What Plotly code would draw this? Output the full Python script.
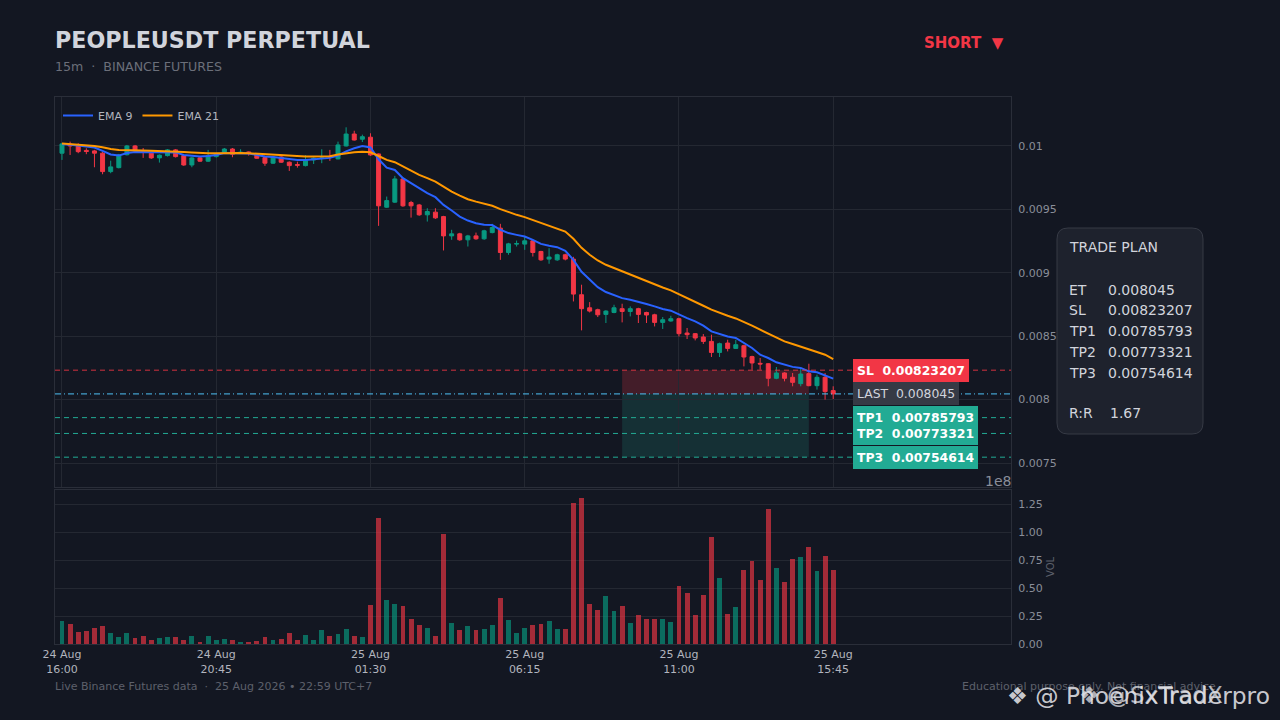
import pandas as pd
import plotly.graph_objects as go

# PEOPLEUSDT perpetual, 15m candles 24 Aug 16:00 -> 25 Aug 15:45
times = pd.date_range("2026-08-24 16:00", periods=96, freq="15min")

opens = [0.009943, 0.010013, 0.010000, 0.009965, 0.009961, 0.009943, 0.009798, 0.009829, 0.009931, 0.010000,
         0.009963, 0.009943, 0.009906, 0.009924, 0.009969, 0.009924, 0.009850, 0.009906, 0.009880, 0.009916,
         0.009943, 0.009976, 0.009943, 0.009953, 0.009937, 0.009908, 0.009864, 0.009913, 0.009872, 0.009853,
         0.009845, 0.009890, 0.009901, 0.009918, 0.009898, 0.010000, 0.010094, 0.010053, 0.010069, 0.009937,
         0.009517, 0.009557, 0.009740, 0.009554, 0.009535, 0.009457, 0.009478, 0.009443, 0.009291, 0.009307,
         0.009260, 0.009291, 0.009268, 0.009317, 0.009352, 0.009160, 0.009226, 0.009226, 0.009252, 0.009168,
         0.009108, 0.009102, 0.009142, 0.009108, 0.008827, 0.008724, 0.008709, 0.008672, 0.008687, 0.008717,
         0.008695, 0.008717, 0.008687, 0.008669, 0.008609, 0.008620, 0.008638, 0.008525, 0.008520, 0.008494,
         0.008459, 0.008372, 0.008446, 0.008404, 0.008425, 0.008339, 0.008286, 0.008283, 0.008168, 0.008210,
         0.008176, 0.008126, 0.008205, 0.008110, 0.008176, 0.008071]
highs = [0.010024, 0.010034, 0.010021, 0.009982, 0.009969, 0.009953, 0.009884, 0.009937, 0.010008, 0.010008,
         0.009984, 0.009949, 0.009933, 0.009976, 0.009976, 0.009929, 0.009913, 0.009913, 0.009969, 0.009941,
         0.009984, 0.009984, 0.009974, 0.009957, 0.009941, 0.009913, 0.009921, 0.009919, 0.009878, 0.009876,
         0.009927, 0.009909, 0.009974, 0.009969, 0.010034, 0.010147, 0.010120, 0.010089, 0.010100, 0.009941,
         0.009601, 0.009764, 0.009748, 0.009567, 0.009543, 0.009509, 0.009509, 0.009449, 0.009339, 0.009315,
         0.009299, 0.009317, 0.009339, 0.009386, 0.009386, 0.009236, 0.009254, 0.009283, 0.009260, 0.009173,
         0.009194, 0.009150, 0.009150, 0.009126, 0.008906, 0.008769, 0.008717, 0.008705, 0.008748, 0.008756,
         0.008735, 0.008724, 0.008693, 0.008677, 0.008651, 0.008661, 0.008646, 0.008565, 0.008525, 0.008517,
         0.008512, 0.008449, 0.008472, 0.008472, 0.008433, 0.008346, 0.008328, 0.008287, 0.008257, 0.008216,
         0.008210, 0.008250, 0.008283, 0.008197, 0.008210, 0.008105]
lows = [0.009890, 0.009929, 0.009943, 0.009935, 0.009832, 0.009777, 0.009785, 0.009823, 0.009925, 0.009953,
        0.009906, 0.009898, 0.009869, 0.009917, 0.009909, 0.009843, 0.009832, 0.009874, 0.009874, 0.009909,
        0.009937, 0.009911, 0.009937, 0.009924, 0.009898, 0.009843, 0.009858, 0.009866, 0.009803, 0.009829,
        0.009839, 0.009858, 0.009864, 0.009882, 0.009894, 0.009996, 0.010043, 0.010031, 0.009921, 0.009370,
        0.009512, 0.009551, 0.009520, 0.009435, 0.009449, 0.009404, 0.009425, 0.009176, 0.009260, 0.009252,
        0.009207, 0.009260, 0.009260, 0.009311, 0.009102, 0.009142, 0.009207, 0.009181, 0.009128, 0.009094,
        0.009071, 0.009094, 0.009098, 0.008774, 0.008546, 0.008687, 0.008651, 0.008604, 0.008681, 0.008609,
        0.008656, 0.008604, 0.008604, 0.008577, 0.008557, 0.008614, 0.008498, 0.008478, 0.008467, 0.008439,
        0.008336, 0.008336, 0.008380, 0.008399, 0.008262, 0.008236, 0.008236, 0.008105, 0.008161, 0.008144,
        0.008105, 0.008105, 0.008105, 0.008079, 0.008000, 0.008005]
closes = [0.010016, 0.010000, 0.009955, 0.009957, 0.009943, 0.009798, 0.009835, 0.009929, 0.010000, 0.009961,
          0.009958, 0.009906, 0.009927, 0.009969, 0.009916, 0.009850, 0.009906, 0.009880, 0.009924, 0.009935,
          0.009976, 0.009935, 0.009950, 0.009943, 0.009903, 0.009864, 0.009913, 0.009872, 0.009845, 0.009848,
          0.009884, 0.009903, 0.009905, 0.009913, 0.010008, 0.010094, 0.010047, 0.010073, 0.009929, 0.009528,
          0.009569, 0.009740, 0.009528, 0.009528, 0.009457, 0.009483, 0.009433, 0.009291, 0.009307, 0.009260,
          0.009291, 0.009268, 0.009331, 0.009357, 0.009160, 0.009228, 0.009230, 0.009252, 0.009160, 0.009102,
          0.009124, 0.009142, 0.009108, 0.008832, 0.008717, 0.008698, 0.008669, 0.008698, 0.008724, 0.008695,
          0.008717, 0.008672, 0.008667, 0.008609, 0.008630, 0.008638, 0.008520, 0.008512, 0.008486, 0.008459,
          0.008372, 0.008441, 0.008404, 0.008433, 0.008336, 0.008289, 0.008281, 0.008168, 0.008210, 0.008168,
          0.008136, 0.008202, 0.008110, 0.008176, 0.008063, 0.008045]
# volume in units of 1e8
volume = [0.205, 0.179, 0.107, 0.116, 0.143, 0.161, 0.098, 0.0625, 0.098, 0.054,
          0.071, 0.036, 0.054, 0.0625, 0.0625, 0.036, 0.071, 0.018, 0.071, 0.036,
          0.045, 0.036, 0.018, 0.018, 0.027, 0.0625, 0.036, 0.045, 0.098, 0.036,
          0.080, 0.036, 0.125, 0.071, 0.089, 0.134, 0.071, 0.0625, 0.348, 1.125,
          0.393, 0.357, 0.339, 0.223, 0.170, 0.143, 0.071, 0.982, 0.1875, 0.125,
          0.161, 0.125, 0.134, 0.170, 0.411, 0.214, 0.098, 0.143, 0.170, 0.179,
          0.205, 0.134, 0.134, 1.259, 1.304, 0.357, 0.304, 0.429, 0.295, 0.339,
          0.1875, 0.259, 0.223, 0.223, 0.223, 0.196, 0.518, 0.455, 0.259, 0.4375,
          0.955, 0.589, 0.268, 0.330, 0.661, 0.741, 0.571, 1.205, 0.679, 0.554,
          0.759, 0.777, 0.866, 0.652, 0.786, 0.661]
ema9 = [0.010016, 0.010012, 0.010004, 0.009996, 0.009988, 0.009961, 0.009933, 0.009924, 0.009945, 0.009953,
        0.009953, 0.009949, 0.009949, 0.009953, 0.009949, 0.009929, 0.009925, 0.009917, 0.009921, 0.009929,
        0.009945, 0.009945, 0.009945, 0.009941, 0.009929, 0.009917, 0.009913, 0.009906, 0.009894, 0.009890,
        0.009890, 0.009894, 0.009898, 0.009906, 0.009925, 0.009957, 0.009982, 0.010000, 0.009988, 0.009895,
        0.009829, 0.009811, 0.009746, 0.009706, 0.009667, 0.009628, 0.009596, 0.009535, 0.009491, 0.009443,
        0.009412, 0.009391, 0.009378, 0.009376, 0.009339, 0.009313, 0.009299, 0.009286, 0.009260, 0.009228,
        0.009213, 0.009202, 0.009173, 0.009102, 0.009008, 0.008945, 0.008887, 0.008848, 0.008821, 0.008800,
        0.008787, 0.008772, 0.008754, 0.008735, 0.008714, 0.008701, 0.008669, 0.008643, 0.008617, 0.008583,
        0.008538, 0.008517, 0.008498, 0.008486, 0.008446, 0.008407, 0.008354, 0.008328, 0.008294, 0.008276,
        0.008258, 0.008250, 0.008223, 0.008215, 0.008189, 0.008165]
ema21 = [0.010020, 0.010016, 0.010012, 0.010006, 0.010000, 0.009990, 0.009976, 0.009969, 0.009966, 0.009966,
         0.009965, 0.009963, 0.009961, 0.009961, 0.009958, 0.009953, 0.009949, 0.009945, 0.009943, 0.009943,
         0.009945, 0.009945, 0.009945, 0.009943, 0.009939, 0.009935, 0.009929, 0.009927, 0.009921, 0.009917,
         0.009916, 0.009916, 0.009916, 0.009919, 0.009933, 0.009943, 0.009950, 0.009955, 0.009950, 0.009921,
         0.009890, 0.009872, 0.009837, 0.009806, 0.009772, 0.009746, 0.009719, 0.009680, 0.009640, 0.009609,
         0.009580, 0.009561, 0.009543, 0.009528, 0.009502, 0.009478, 0.009457, 0.009439, 0.009417, 0.009391,
         0.009370, 0.009352, 0.009325, 0.009268, 0.009197, 0.009142, 0.009097, 0.009063, 0.009037, 0.009010,
         0.008984, 0.008958, 0.008937, 0.008911, 0.008884, 0.008861, 0.008832, 0.008801, 0.008769, 0.008740,
         0.008709, 0.008683, 0.008661, 0.008640, 0.008614, 0.008583, 0.008551, 0.008520, 0.008491, 0.008459,
         0.008439, 0.008420, 0.008399, 0.008376, 0.008354, 0.008320]

# trade plan
entry = 0.008045
stop_loss = 0.00823207
tp1 = 0.00785793
tp2 = 0.00773321
tp3 = 0.00754614
rr = 1.67
zone_start = "2026-08-25 09:15"
zone_end = "2026-08-25 15:00"

price_ticks = [0.0075, 0.008, 0.0085, 0.009, 0.0095, 0.01]
price_labels = ["0.0075", "0.008", "0.0085", "0.009", "0.0095", "0.01"]
vol_ticks = [0, 0.25, 0.5, 0.75, 1.0, 1.25]
vol_labels = ["0.00", "0.25", "0.50", "0.75", "1.00", "1.25"]
time_ticks = ["2026-08-24 16:00", "2026-08-24 20:45", "2026-08-25 01:30",
              "2026-08-25 06:15", "2026-08-25 11:00", "2026-08-25 15:45"]
time_labels = ["24 Aug<br>16:00", "24 Aug<br>20:45", "25 Aug<br>01:30",
               "25 Aug<br>06:15", "25 Aug<br>11:00", "25 Aug<br>15:45"]

BG = "#131722"
GRID = "#242832"
FRAME = "#2a2e39"
UP = "#089981"
DOWN = "#f23645"
TEAL = "#22ab94"
FONT = "DejaVu Sans"
W, H = 1280, 720


def px(x):
    return x / W


def py(y):
    return 1 - y / H


fig = go.Figure()

fig.add_trace(go.Candlestick(
    x=times, open=opens, high=highs, low=lows, close=closes,
    increasing=dict(line=dict(color=UP, width=1), fillcolor=UP),
    decreasing=dict(line=dict(color=DOWN, width=1), fillcolor=DOWN),
    showlegend=False, hoverinfo="skip", xaxis="x", yaxis="y"))

fig.add_trace(go.Scatter(x=times, y=ema9, mode="lines", name="EMA 9",
                         line=dict(color="#2962ff", width=2), xaxis="x", yaxis="y"))
fig.add_trace(go.Scatter(x=times, y=ema21, mode="lines", name="EMA 21",
                         line=dict(color="#ff9800", width=2), xaxis="x", yaxis="y"))

vol_colors = ["rgba(8,153,129,0.65)" if c >= o else "rgba(242,54,69,0.65)"
              for o, c in zip(opens, closes)]
fig.add_trace(go.Bar(x=times, y=volume, marker=dict(color=vol_colors, line=dict(width=0)),
                     width=540000, showlegend=False, hoverinfo="skip", xaxis="x2", yaxis="y2"))

# entry zones
fig.add_shape(type="rect", xref="x", yref="y", x0=zone_start, x1=zone_end, y0=entry, y1=stop_loss,
              fillcolor="rgba(242,54,69,0.22)", line=dict(width=0), layer="below")
fig.add_shape(type="rect", xref="x", yref="y", x0=zone_start, x1=zone_end, y0=tp3, y1=entry,
              fillcolor="rgba(34,171,148,0.17)", line=dict(width=0), layer="below")

# level lines
levels = [(stop_loss, "rgba(242,54,69,0.85)", "5px,4px"),
          (entry, "#4fc3f7", "6px,3px,1px,3px"),
          (tp1, TEAL, "5px,4px"),
          (tp2, TEAL, "5px,4px"),
          (tp3, TEAL, "5px,4px")]
for lvl, col, dash in levels:
    fig.add_shape(type="line", xref="x domain", yref="y", x0=0, x1=1, y0=lvl, y1=lvl,
                  line=dict(color=col, width=1, dash=dash))

# level tags
tags = [("<b>SL\u00a0\u00a00.00823207</b>", stop_loss, DOWN, "white"),
        ("LAST\u00a0\u00a00.008045", entry, "#363a45", "#d1d4dc"),
        ("<b>TP1\u00a0\u00a00.00785793</b>", tp1, TEAL, "white"),
        ("<b>TP2\u00a0\u00a00.00773321</b>", tp2, TEAL, "white"),
        ("<b>TP3\u00a0\u00a00.00754614</b>", tp3, TEAL, "white")]
for txt, lvl, bg, fc in tags:
    fig.add_annotation(text=txt, xref="paper", yref="y", x=px(853), y=lvl, xanchor="left",
                       yanchor="middle", showarrow=False, bgcolor=bg, bordercolor=bg, borderpad=3,
                       font=dict(family=FONT, size=12.4, color=fc))

# trade plan card
x0, x1, y0, y1 = px(1057), px(1203), py(434), py(228)
rx, ry = px(11), 11 / H
card = (f"M {x0 + rx},{y0} L {x1 - rx},{y0} Q {x1},{y0} {x1},{y0 + ry} "
        f"L {x1},{y1 - ry} Q {x1},{y1} {x1 - rx},{y1} L {x0 + rx},{y1} "
        f"Q {x0},{y1} {x0},{y1 - ry} L {x0},{y0 + ry} Q {x0},{y0} {x0 + rx},{y0} Z")
fig.add_shape(type="path", xref="paper", yref="paper", path=card,
              fillcolor="#1e222d", line=dict(color="#363a45", width=1))

plan_rows = [("TRADE PLAN", "", 247), ("ET", f"{entry}", 290), ("SL", f"{stop_loss}", 310),
             ("TP1", f"{tp1}", 331), ("TP2", f"{tp2}", 352), ("TP3", f"{tp3}", 373),
             ("R:R", f"{rr}", 413)]
for lab, val, yy in plan_rows:
    fig.add_annotation(text=lab, xref="paper", yref="paper", x=px(1067), y=py(yy),
                       xanchor="left", yanchor="middle", showarrow=False,
                       font=dict(family=FONT, size=14, color="#d1d4dc"))
    if val:
        fig.add_annotation(text=val, xref="paper", yref="paper",
                           x=px(1108 if lab == "R:R" else 1106), y=py(yy),
                           xanchor="left", yanchor="middle", showarrow=False,
                           font=dict(family=FONT, size=14, color="#d1d4dc"))

# header / footer texts
texts = [
    ("<b>PEOPLEUSDT PERPETUAL</b>", 53, 40, "left", 22.2, "#d1d4dc"),
    ("15m\u00a0\u00a0·\u00a0\u00a0BINANCE FUTURES", 53, 66, "left", 12.6, "#6b6f7a"),
    ("<b>SHORT\u00a0\u00a0▼</b>", 1006, 43, "right", 15, DOWN),
    ("Live Binance Futures data\u00a0\u00a0·\u00a0\u00a025 Aug 2026 • 22:59 UTC+7", 53, 686, "left", 11, "#5d606b"),
    ("Educational purpose only. Not financial advice.", 1221, 686, "right", 11, "#5d606b"),
    ("1e8", 1013, 481, "right", 14, "#8a8e99"),
]
for txt, xx, yy, anc, size, col in texts:
    fig.add_annotation(text=txt, xref="paper", yref="paper", x=px(xx), y=py(yy),
                       xanchor=anc, yanchor="middle", showarrow=False,
                       font=dict(family=FONT, size=size, color=col))

fig.add_annotation(text="VOL", xref="paper", yref="paper", x=px(1050), y=py(567), textangle=-90,
                   xanchor="center", yanchor="middle", showarrow=False,
                   font=dict(family=FONT, size=10, color="#5d606b"))

# watermark overlay (two stamps on top of each other, as in the source image)
fig.add_annotation(text="❖ @ PhoenixTraderpro", xref="paper", yref="paper", x=px(1005), y=py(695),
                   xanchor="left", yanchor="middle", showarrow=False,
                   font=dict(family=FONT, size=23.3, color="rgba(225,225,230,0.9)"))
fig.add_annotation(text="❖ @SxTradX", xref="paper", yref="paper", x=px(1077), y=py(695),
                   xanchor="left", yanchor="middle", showarrow=False,
                   font=dict(family=FONT, size=23, color="rgba(225,225,230,0.75)"))

axis_common = dict(showline=True, mirror=True, linecolor=FRAME, linewidth=1, zeroline=False,
                   gridcolor=GRID, gridwidth=1, ticks="", automargin=False)

fig.update_layout(
    width=W, height=H, autosize=False,
    margin=dict(l=0, r=0, t=0, b=0),
    paper_bgcolor=BG, plot_bgcolor=BG,
    font=dict(family=FONT, color="#b2b5be"),
    showlegend=True,
    legend=dict(orientation="h", x=px(58), y=py(101), xanchor="left", yanchor="top",
                bgcolor="rgba(0,0,0,0)", font=dict(size=11, color="#b2b5be"), itemwidth=30),
    bargap=0,
    xaxis=dict(domain=[px(55), px(1011)], anchor="y", type="date",
               range=["2026-08-24 15:47:06", "2026-08-25 21:13:30"],
               tickvals=time_ticks, showticklabels=False, showgrid=True,
               rangeslider=dict(visible=False), **axis_common),
    yaxis=dict(domain=[py(487), py(97)], anchor="x", side="right",
               range=[0.007311, 0.010386], tickvals=price_ticks, ticktext=price_labels,
               tickfont=dict(size=11, color="#8a8e99"), ticklabelstandoff=4, **axis_common),
    xaxis2=dict(domain=[px(55), px(1011)], anchor="y2", type="date", matches="x",
                tickvals=time_ticks, ticktext=time_labels, showgrid=False,
                tickfont=dict(size=11, color="#b2b5be"), **axis_common),
    yaxis2=dict(domain=[py(644), py(490)], anchor="x2", side="right",
                range=[0, 1.375], tickvals=vol_ticks, ticktext=vol_labels,
                tickfont=dict(size=11, color="#8a8e99"), ticklabelstandoff=4, **axis_common),
)

fig.write_html("out.html", config={"displayModeBar": False},
               post_script="document.body.style.margin='0';document.body.style.overflow='hidden';")
